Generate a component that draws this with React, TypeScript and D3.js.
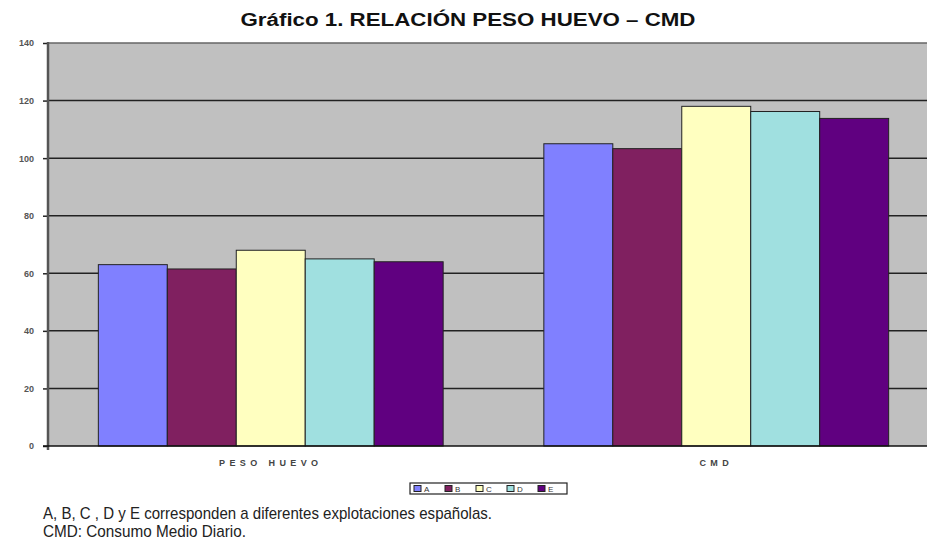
import { useRef, useEffect } from 'react';
import * as d3 from 'd3';

const categories = ['PESO HUEVO', 'CMD'];
const series = ['A', 'B', 'C', 'D', 'E'];
const pesoHuevo = [63, 61.5, 68, 65, 64];
const cmd = [105, 103.3, 118, 116.2, 113.8];
const colors = ['#8080FF', '#802060', '#FFFFC0', '#A0E0E0', '#600080'];
const yTicks = [0, 20, 40, 60, 80, 100, 120, 140];

const W = 927;
const H = 546;

const App = () => {
  const gRef = useRef<SVGGElement>(null);

  useEffect(() => {
    const svg = d3.select(gRef.current);
    svg.selectAll('*').remove();

    const left = 48;
    const right = 939;
    const top = 43;
    const bottom = 446;

    const x0 = d3.scaleBand().domain(categories).range([left, right]);
    const x1 = d3
      .scaleBand()
      .domain(series)
      .range([0, x0.bandwidth()])
      .paddingInner(0)
      .paddingOuter(0.73);
    const y = d3.scaleLinear().domain([0, 140]).range([bottom, top]);

    // plot background
    svg
      .append('rect')
      .attr('x', left)
      .attr('y', top)
      .attr('width', right - left)
      .attr('height', bottom - top)
      .attr('fill', '#C0C0C0');

    // gridlines
    svg
      .append('g')
      .selectAll('line')
      .data(yTicks.filter((t) => t > 0))
      .join('line')
      .attr('x1', left)
      .attr('x2', right)
      .attr('y1', (d) => y(d))
      .attr('y2', (d) => y(d))
      .attr('stroke', (d) => (d === 140 ? '#666' : '#222'))
      .attr('stroke-width', 1.5);

    const rows = [pesoHuevo, cmd];
    const groups = svg
      .append('g')
      .selectAll('g')
      .data(categories)
      .join('g')
      .attr('transform', (d) => `translate(${x0(d)},0)`);

    groups
      .selectAll('rect')
      .data((d, i) => rows[i].map((v, j) => ({ key: series[j], value: v, color: colors[j] })))
      .join('rect')
      .attr('x', (d) => x1(d.key)!)
      .attr('y', (d) => y(d.value))
      .attr('width', x1.bandwidth())
      .attr('height', (d) => bottom - y(d.value))
      .attr('fill', (d) => d.color)
      .attr('stroke', '#222')
      .attr('stroke-width', 1);

    // y axis
    const yAxis = d3
      .axisLeft(y)
      .tickValues(yTicks)
      .tickSize(5)
      .tickPadding(9)
      .tickFormat(d3.format('d'));
    const ya = svg.append('g').attr('transform', `translate(${left},0)`).call(yAxis);
    ya.select('.domain').remove();
    ya.selectAll('.tick line').attr('stroke', '#222').attr('stroke-width', 1.5);
    ya.selectAll('.tick text')
      .attr('font-family', 'Liberation Sans, Arial, sans-serif')
      .attr('font-size', 9)
      .attr('font-weight', 'bold')
      .attr('fill', '#555');
    svg
      .append('line')
      .attr('x1', left)
      .attr('x2', left)
      .attr('y1', top - 1)
      .attr('y2', bottom + 4)
      .attr('stroke', '#555')
      .attr('stroke-width', 2.5);

    // x axis line
    svg
      .append('line')
      .attr('x1', left - 5)
      .attr('x2', right)
      .attr('y1', bottom)
      .attr('y2', bottom)
      .attr('stroke', '#111')
      .attr('stroke-width', 1.5);

    // category labels
    svg
      .append('g')
      .selectAll('text')
      .data(categories)
      .join('text')
      .attr('x', (d) => x0(d)! + x0.bandwidth() / 2)
      .attr('y', 466)
      .attr('text-anchor', 'middle')
      .attr('font-family', 'Liberation Sans, Arial, sans-serif')
      .attr('font-size', 9)
      .attr('font-weight', 'bold')
      .attr('letter-spacing', 4.4)
      .attr('fill', '#444')
      .text((d) => d);

    // legend
    const lg = svg.append('g').attr('transform', 'translate(410,483)');
    lg.append('rect')
      .attr('width', 157)
      .attr('height', 11)
      .attr('fill', '#fff')
      .attr('stroke', '#222')
      .attr('stroke-width', 1.2);
    const items = lg
      .selectAll('g.item')
      .data(series)
      .join('g')
      .attr('class', 'item')
      .attr('transform', (d, i) => `translate(${4 + i * 31},0)`);
    items
      .append('rect')
      .attr('x', 0)
      .attr('y', 2.5)
      .attr('width', 7)
      .attr('height', 6)
      .attr('fill', (d, i) => colors[i])
      .attr('stroke', '#222')
      .attr('stroke-width', 1);
    items
      .append('text')
      .attr('x', 10)
      .attr('y', 9)
      .attr('font-family', 'Liberation Sans, Arial, sans-serif')
      .attr('font-size', 8)
      .attr('fill', '#333')
      .text((d) => d);
  }, []);

  return (
    <svg
      width={W}
      height={H}
      style={{ position: 'absolute', left: 0, top: 0, background: '#fff' }}
    >
      <text
        x={468}
        y={26}
        textAnchor='middle'
        fontFamily='Liberation Sans, Arial, sans-serif'
        fontWeight='bold'
        fontSize={18}
        textLength={455}
        lengthAdjust='spacingAndGlyphs'
        fill='#111'
      >
        Gráfico 1. RELACIÓN PESO HUEVO – CMD
      </text>
      <g ref={gRef} />
      <g fontFamily='Liberation Sans, Arial, sans-serif' fontSize={17} fill='#222'>
        <text x={43} y={519} textLength={449} lengthAdjust='spacingAndGlyphs'>
          A, B, C , D y E corresponden a diferentes explotaciones españolas.
        </text>
        <text x={43} y={537} textLength={203} lengthAdjust='spacingAndGlyphs'>
          CMD: Consumo Medio Diario.
        </text>
      </g>
    </svg>
  );
};

export default App;
